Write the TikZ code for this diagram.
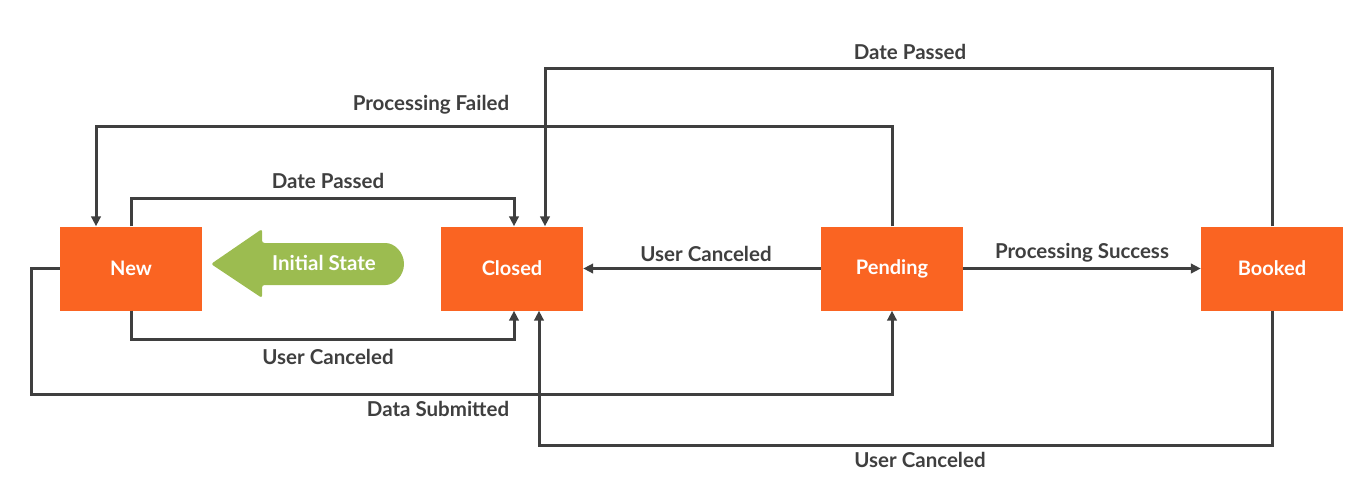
\documentclass[tikz,border=0pt]{standalone}
\usepackage{fontspec}
\setmainfont{Lato}[BoldFont={Lato Bold}]
\usetikzlibrary{arrows.meta}
\definecolor{stateorange}{HTML}{FA6422}
\definecolor{initgreen}{HTML}{9CBC50}
\definecolor{linegray}{HTML}{3F3F3F}
\tikzset{
  statebox/.style={fill=stateorange, minimum width=142pt, minimum height=84pt, inner sep=0pt,
    text=white, font=\fontsize{20}{23}\selectfont\bfseries},
  conn/.style={draw=linegray, line width=3pt, -{Triangle[length=10pt,width=9.5pt]}},
  lbl/.style={text=linegray, font=\fontsize{20.5}{23}\selectfont\bfseries, inner sep=0pt},
}
\begin{document}
\begin{tikzpicture}[x=1pt,y=-1pt]
\useasboundingbox (0,0) rectangle (1356,481);
\node[statebox] (new) at (131,268.5) {New};
\node[statebox] (closed) at (512,268.5) {Closed};
\node[statebox] (pending) at (892,268.5) {Pending};
\node[statebox] (booked) at (1272,268.5) {Booked};
% initial state arrow
\fill[initgreen, rounded corners=2.5pt] (211,264) -- (262,229) -- (262,243) -- (383,243)
  arc[start angle=-90, end angle=90, radius=21] -- (262,285) -- (262,298) -- cycle;
\node[lbl, text=white] (init) at (324,263) {Initial State};
% connectors
\draw[conn] (new.north) -- ++(0,-27.5) -| ([xshift=2pt]closed.north);
\draw[conn] (new.south) -- ++(0,28.5) -| ([xshift=2pt]closed.south);
\draw[conn] (pending.north) -- ++(0,-100) -| ([xshift=-35pt]new.north);
\draw[conn] (booked.north) -- ++(0,-157.5) -| ([xshift=33pt]closed.north);
\draw[conn] (pending.west) -- (closed.east);
\draw[conn] (pending.east) -- (booked.west);
\draw[conn] (new.west) -- ++(-28,0) -- ++(0,126) -| (pending.south);
\draw[conn] (booked.south) -- ++(0,134.5) -| ([xshift=27pt]closed.south);
% labels
\node[lbl] (lpf) at (431,105) {Processing Failed};
\node[lbl] (ldp1) at (910,52) {Date Passed};
\node[lbl] (ldp2) at (328,181) {Date Passed};
\node[lbl] (luc1) at (328,356.5) {User Canceled};
\node[lbl] (luc2) at (706,254) {User Canceled};
\node[lbl] (lps) at (1082,253) {Processing Success};
\node[lbl] (lds) at (438,409) {Data Submitted};
\node[lbl] (luc3) at (920,460) {User Canceled};
\end{tikzpicture}
\end{document}
